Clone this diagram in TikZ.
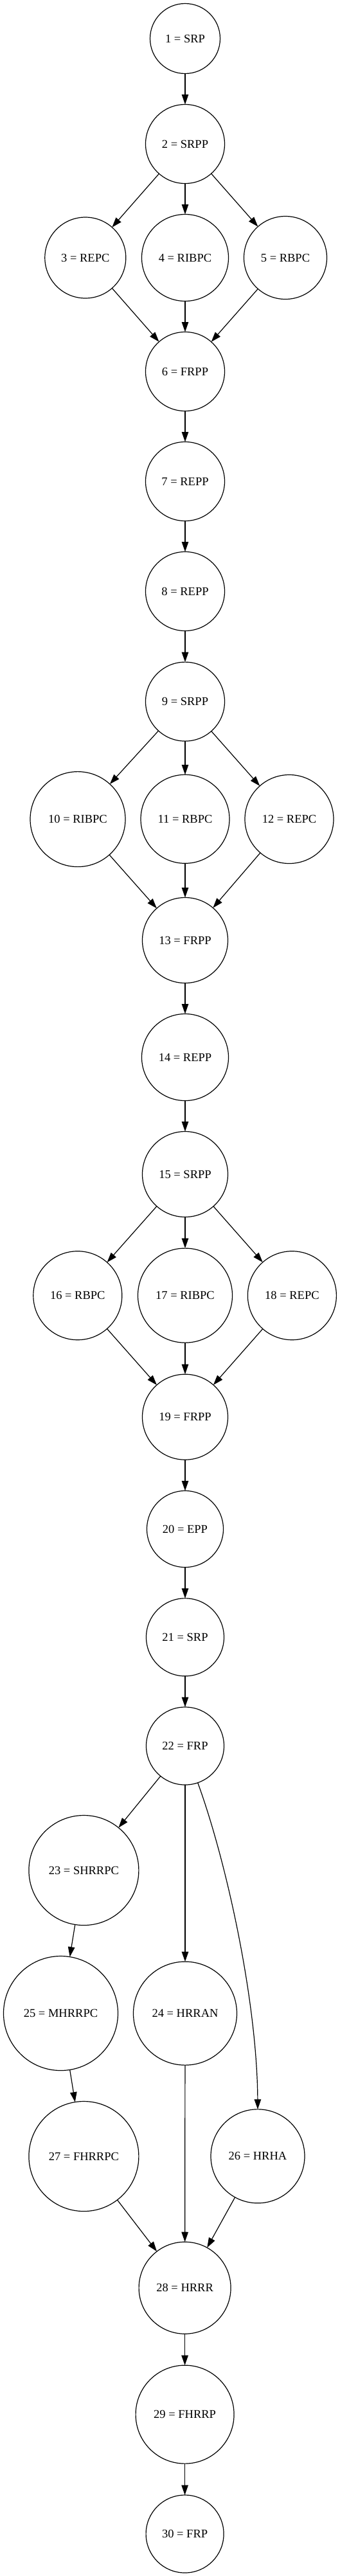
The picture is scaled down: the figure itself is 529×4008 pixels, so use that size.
\documentclass[tikz,border=0pt]{standalone}
\usepackage{fontspec}
\setmainfont{Liberation Serif}
\usetikzlibrary{arrows.meta}
\begin{document}
\begin{tikzpicture}[x=1pt,y=-1pt,
  nd/.style={draw=black,circle,line width=1.2pt,inner sep=0pt,outer sep=0pt,
    font=\fontsize{18.5}{22}\selectfont,text=black},
  edge/.style={draw=black,line width=1.2pt,-{Triangle[length=15.5pt,width=10.5pt]}}]
\useasboundingbox (0,0) rectangle (529,4008);
\node[nd,minimum size=109pt] (n1) at (288,60) {1 = SRP};
\node[nd,minimum size=123pt] (n2) at (288,224) {2 = SRPP};
\node[nd,minimum size=126pt] (n3) at (132.8,401) {3 = REPC};
\node[nd,minimum size=135pt] (n4) at (288,401) {4 = RIBPC};
\node[nd,minimum size=129pt] (n5) at (444,401) {5 = RBPC};
\node[nd,minimum size=123pt] (n6) at (288,578) {6 = FRPP};
\node[nd,minimum size=123pt] (n7) at (288,749) {7 = REPP};
\node[nd,minimum size=123pt] (n8) at (288,920) {8 = REPP};
\node[nd,minimum size=123pt] (n9) at (288,1091.6) {9 = SRPP};
\node[nd,minimum size=148pt] (n10) at (121,1274.6) {10 = RIBPC};
\node[nd,minimum size=138pt] (n11) at (288,1274.3) {11 = RBPC};
\node[nd,minimum size=138pt] (n12) at (450,1274.5) {12 = REPC};
\node[nd,minimum size=133pt] (n13) at (288,1463) {13 = FRPP};
\node[nd,minimum size=135pt] (n14) at (288,1645) {14 = REPP};
\node[nd,minimum size=133pt] (n15) at (288,1827) {15 = SRPP};
\node[nd,minimum size=138pt] (n16) at (120.8,2015.7) {16 = RBPC};
\node[nd,minimum size=147pt] (n17) at (288,2015.6) {17 = RIBPC};
\node[nd,minimum size=138pt] (n18) at (454.4,2015.7) {18 = REPC};
\node[nd,minimum size=133pt] (n19) at (288,2204.7) {19 = FRPP};
\node[nd,minimum size=119pt] (n20) at (288,2379) {20 = EPP};
\node[nd,minimum size=121pt] (n21) at (288,2547.3) {21 = SRP};
\node[nd,minimum size=121pt] (n22) at (288,2716.5) {22 = FRP};
\node[nd,minimum size=171pt] (n23) at (130.4,2910) {23 = SHRRPC};
\node[nd,minimum size=161pt] (n24) at (288,3132.6) {24 = HRRAN};
\node[nd,minimum size=178pt] (n25) at (94.5,3132.5) {25 = MHRRPC};
\node[nd,minimum size=146pt] (n26) at (401,3354.8) {26 = HRHA};
\node[nd,minimum size=171pt] (n27) at (130.4,3355) {27 = FHRRPC};
\node[nd,minimum size=143pt] (n28) at (287.6,3559.7) {28 = HRRR};
\node[nd,minimum size=153pt] (n29) at (287.6,3756.6) {29 = FHRRP};
\node[nd,minimum size=121pt] (n30) at (287.6,3942.5) {30 = FRP};
\foreach \a/\b in {n1/n2,n2/n3,n2/n4,n2/n5,n3/n6,n4/n6,n5/n6,n6/n7,n7/n8,n8/n9,
  n9/n10,n9/n11,n9/n12,n10/n13,n11/n13,n12/n13,n13/n14,n14/n15,n15/n16,n15/n17,
  n15/n18,n16/n19,n17/n19,n18/n19,n19/n20,n20/n21,n21/n22,n22/n23,n22/n24,
  n23/n25,n25/n27,n24/n28,n27/n28,n26/n28,n28/n29,n29/n30}
  \draw[edge] (\a) -- (\b);
\draw[edge] (n22.-71) .. controls (353,2898) and (400,3115) .. (n26.north);
\end{tikzpicture}
\end{document}
